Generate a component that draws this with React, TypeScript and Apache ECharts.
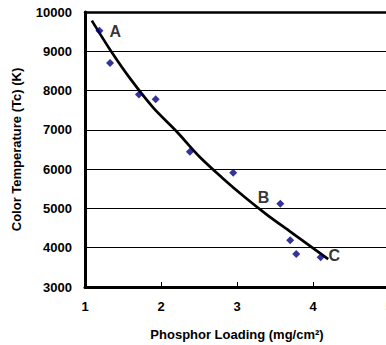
import React, { useEffect, useRef } from "react";
import * as echarts from "echarts";

const loadingX = [1.19, 1.33, 1.71, 1.93, 2.38, 2.95, 3.57, 3.70, 3.78, 4.10];
const tempY = [9520, 8700, 7900, 7780, 6440, 5910, 5120, 4190, 3840, 3760];
const fitX = [1.09, 1.33, 1.6, 1.9, 2.2, 2.5, 2.8, 3.1, 3.4, 3.7, 4.0, 4.2];
const fitY = [9780, 9040, 8290, 7560, 6970, 6330, 5790, 5290, 4830, 4410, 3990, 3710];
const pointLabels = [
  { text: "A", x: 1.4, y: 9500 },
  { text: "B", x: 3.35, y: 5280 },
  { text: "C", x: 4.28, y: 3790 },
];

export default function App() {
  const ref = useRef<HTMLDivElement>(null);
  useEffect(() => {
    const chart = echarts.init(ref.current!, null, { renderer: "svg" });
    const font = "Liberation Sans, Arial, sans-serif";
    chart.setOption({
      animation: false,
      grid: { left: 85, top: 12, width: 304, height: 275, outerBoundsMode: "none", containLabel: false },
      xAxis: [
        {
          type: "value",
          min: 1,
          max: 5,
          interval: 1,
          name: "Phosphor Loading (mg/cm²)",
          nameLocation: "middle",
          nameGap: 41,
          nameTextStyle: { fontFamily: font, fontWeight: "bold", fontSize: 13, color: "#000" },
          axisLine: { lineStyle: { color: "#000", width: 3 } },
          axisTick: { inside: true, length: 5, lineStyle: { color: "#000", width: 1 } },
          axisLabel: { fontFamily: font, fontWeight: "bold", fontSize: 13, color: "#000", margin: 13 },
          splitLine: { show: false },
        },
        {
          type: "value",
          position: "top",
          min: 1,
          max: 5,
          axisLine: { show: true, lineStyle: { color: "#000", width: 2.5 } },
          axisTick: { show: false },
          axisLabel: { show: false },
          splitLine: { show: false },
        },
      ],
      yAxis: {
        type: "value",
        min: 3000,
        max: 10000,
        interval: 1000,
        name: "Color Temperature (Tc) (K)",
        nameLocation: "middle",
        nameGap: 62,
        nameTextStyle: { fontFamily: font, fontWeight: "bold", fontSize: 13, color: "#000" },
        axisLine: { show: true, lineStyle: { color: "#000", width: 3 } },
        axisTick: { show: false },
        axisLabel: {
          fontFamily: font,
          fontWeight: "bold",
          fontSize: 13,
          color: "#000",
          margin: 13,
          formatter: (v: number) => String(v),
        },
        splitLine: { lineStyle: { color: "#000", width: 1 } },
      },
      series: [
        {
          type: "line",
          data: fitX.map((x, i) => [x, fitY[i]]),
          smooth: 0.3,
          showSymbol: false,
          lineStyle: { color: "#000", width: 2.7 },
          z: 2,
        },
        {
          type: "scatter",
          data: loadingX.map((x, i) => [x, tempY[i]]),
          symbol: "diamond",
          symbolSize: 8,
          itemStyle: { color: "#000080" },
          z: 3,
        },
        {
          type: "scatter",
          data: pointLabels.map((p) => ({ value: [p.x, p.y], name: p.text })),
          symbolSize: 0,
          label: {
            show: true,
            position: "inside",
            formatter: (p: any) => p.name,
            fontFamily: font,
            fontWeight: "bold",
            fontSize: 16,
            color: "#000",
          },
          z: 4,
        },
      ],
    });
    return () => chart.dispose();
  }, []);
  return (
    <div
      ref={ref}
      style={{ position: "fixed", left: 0, top: 0, width: 386, height: 345, background: "#fff" }}
    />
  );
}
